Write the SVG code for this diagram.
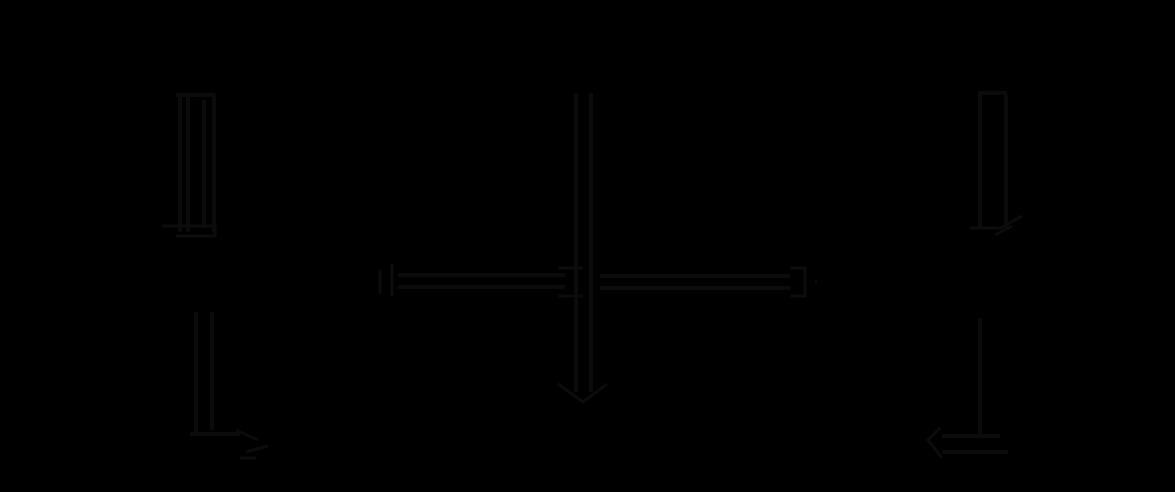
<svg xmlns="http://www.w3.org/2000/svg" width="1175" height="492" viewBox="0 0 1175 492">
<style>
.ln{fill:none;stroke:#0b0b0b;stroke-width:4;stroke-linecap:butt}
.hd{fill:none;stroke:#0c0c0c;stroke-width:3;stroke-linejoin:miter}
</style>
<rect x="0" y="0" width="1175" height="492" fill="#000000"/>
<g id="connectors">
  <g id="c-left-top">
    <path class="ln" d="M176 95 H215 M180 95 V232 M188 95 V232 M204 100 V228 M214 95 V232"/>
    <path class="hd" d="M162 226 H215 V236 H176"/>
  </g>
  <g id="c-center">
    <path class="ln" d="M576 93 V392 M591 93 V392"/>
    <path class="hd" d="M558 384 L583 402 L607 384"/>
  </g>
  <g id="c-right-top">
    <path class="ln" d="M978 93 H1007 M980 95 V228 M1006 95 V228"/>
    <path class="hd" d="M970 228 H1000 L1022 216 M995 235 L1012 226"/>
  </g>
  <g id="c-horizontal">
    <path class="ln" d="M398 275 H565 M398 287 H565 M600 276 H790 M600 288 H790"/>
    <path class="hd" d="M380 270 V294 M392 264 V296"/>
    <path class="hd" d="M558 268 H583 M558 296 H583"/>
    <path class="hd" d="M790 268 H805 V296 H790 M815 282 h2"/>
  </g>
  <g id="c-left-bottom">
    <path class="ln" d="M196 312 V434 M212 312 V430"/>
    <path class="ln" d="M190 434 H240"/>
    <path class="hd" d="M236 430 L258 440 M246 452 L268 446 M240 458 H256"/>
  </g>
  <g id="c-right-bottom">
    <path class="ln" d="M980 318 V434"/>
    <path class="ln" d="M942 436 H1000 M942 452 H1008"/>
    <path class="hd" d="M940 428 L928 440 L942 458"/>
  </g>
</g>
</svg>
